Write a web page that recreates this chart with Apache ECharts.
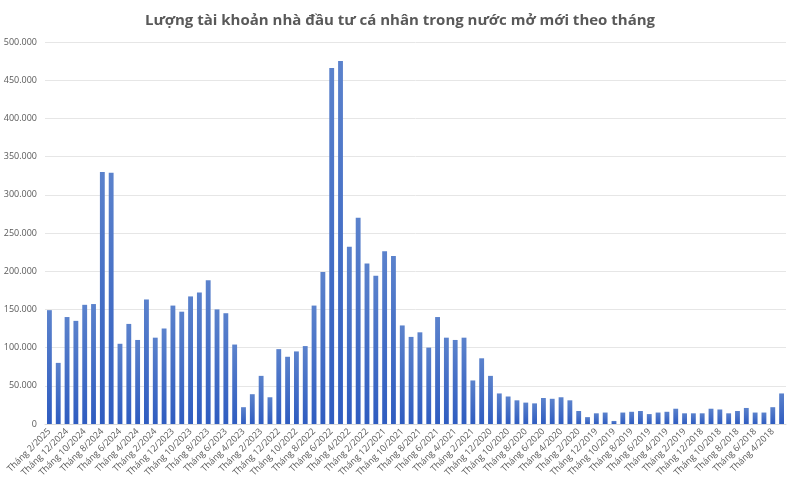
<!DOCTYPE html>
<html><head><meta charset="utf-8">
<script src="https://cdn.jsdelivr.net/npm/echarts@6/dist/echarts.min.js"></script>
<style>html,body{margin:0;background:#fff}#c{width:800px;height:487px}</style>
</head><body><div id="c"></div>
<script>
const title = "Lượng tài khoản nhà đầu tư cá nhân trong nước mở mới theo tháng";
const months = [];
(function(){ let y=2025,m=2; for(let i=0;i<84;i++){ months.push("Tháng "+m+"/"+y); m--; if(m===0){m=12;y--;} } })();
const values = [149000,80000,140000,135000,156000,157000,330000,329000,105000,131000,110000,163000,113000,125000,155000,147000,167000,172000,188000,150000,145000,104000,22000,39000,63000,35000,98000,88000,95000,102000,155000,199000,466000,475000,232000,270000,210000,194000,226000,220000,129000,114000,120000,100000,140000,113000,110000,113000,57000,86000,63000,40000,36000,31000,28000,27000,34000,33000,35000,31000,17000,9000,14000,15000,4000,15000,16000,17000,13000,15000,16000,20000,14000,14000,14000,20000,19000,14000,17000,21000,15000,15000,22000,40000];
const chart = echarts.init(document.getElementById('c'));
chart.setOption({
  animation:false,
  title:{text:title,left:'center',top:8,textStyle:{fontFamily:'Open Sans',fontSize:15,fontWeight:'bold',color:'#595959'}},
  grid:{left:45,right:14,top:42,bottom:63},
  xAxis:{type:'category',data:months,
    axisTick:{show:false},axisLine:{lineStyle:{color:'#d9d9d9'}},
    axisLabel:{interval:1,rotate:45,fontSize:9,color:'#595959',fontFamily:'Open Sans',margin:6}},
  yAxis:{type:'value',min:0,max:500000,interval:50000,
    axisLabel:{fontSize:9,color:'#595959',fontFamily:'Open Sans',formatter:v=>v.toLocaleString('de-DE')},
    splitLine:{lineStyle:{color:'#e6e6e6'}}},
  series:[{type:'bar',data:values,barWidth:'55%',
    itemStyle:{color:new echarts.graphic.LinearGradient(0,0,0,1,[{offset:0,color:'#5b82cc'},{offset:1,color:'#2f5cc0'}])}}]
});
</script></body></html>
